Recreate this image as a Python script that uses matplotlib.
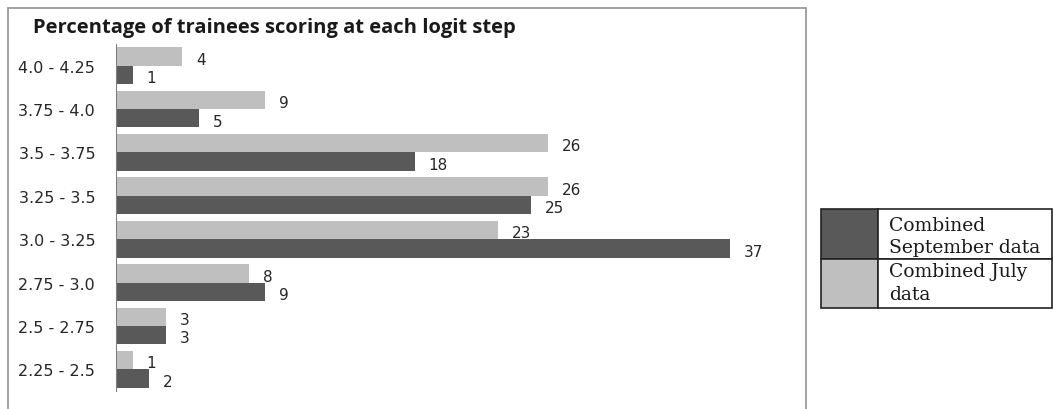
import matplotlib
matplotlib.use("Agg")
import matplotlib.pyplot as plt
from matplotlib.patches import Rectangle

# logit steps, listed top to bottom as shown
steps = ["4.0 - 4.25", "3.75 - 4.0", "3.5 - 3.75", "3.25 - 3.5",
         "3.0 - 3.25", "2.75 - 3.0", "2.5 - 2.75", "2.25 - 2.5"]
july = [4, 9, 26, 26, 23, 8, 3, 1]
september = [1, 5, 18, 25, 37, 9, 3, 2]

light = "#bfbfbf"
dark = "#595959"

W, H = 1053, 410
fig = plt.figure(figsize=(W / 100, H / 100), dpi=100)

def fx(px):
    return px / W

def fy(py):
    return 1 - py / H

# outer chart border
fig.patches.append(Rectangle((fx(8), fy(440)), fx(806) - fx(8), fy(9) - fy(440),
                             transform=fig.transFigure, fill=False,
                             edgecolor="#9a9a9a", linewidth=1.3))

ax = fig.add_axes([fx(116), fy(392), fx(790) - fx(116), fy(45) - fy(392)])

n = len(steps)
pos = [n - 1 - i for i in range(n)]
h = 0.425
ax.barh([p + h / 2 for p in pos], july, height=h, color=light)
ax.barh([p - h / 2 for p in pos], september, height=h, color=dark)

for p, v in zip(pos, july):
    ax.annotate(str(v), (v, p + h / 2), xytext=(10, -2), textcoords="offset points",
                va="center", ha="left", fontsize=11, family="DejaVu Sans",
                color="#262626")
for p, v in zip(pos, september):
    ax.annotate(str(v), (v, p - h / 2), xytext=(10, -2), textcoords="offset points",
                va="center", ha="left", fontsize=11, family="DejaVu Sans",
                color="#262626")

ax.set_xlim(0, 40.6)
ax.set_ylim(-0.5, n - 0.5)
ax.set_yticks(pos)
ax.set_yticklabels(steps, fontsize=11.5, family="DejaVu Sans", color="#262626")
ax.tick_params(axis="y", length=0, pad=15)
ax.set_xticks([])
for s in ["top", "right", "bottom"]:
    ax.spines[s].set_visible(False)
ax.spines["left"].set_color("#808080")
ax.spines["left"].set_bounds(-0.5, n - 0.5)

fig.text(fx(33), fy(28), "Percentage of trainees scoring at each logit step",
         fontsize=14.5, fontweight="bold", family="Open Sans", va="center", ha="left",
         color="#1a1a1a")

# legend drawn as a two-row table
lx0, lx1, lx2 = 821, 878, 1052
ly0, ly1, ly2 = 210, 260, 309
fig.patches.append(Rectangle((fx(lx0), fy(ly1)), fx(lx1) - fx(lx0), fy(ly0) - fy(ly1),
                             transform=fig.transFigure, facecolor=dark,
                             edgecolor="#222222", linewidth=1.2))
fig.patches.append(Rectangle((fx(lx0), fy(ly2)), fx(lx1) - fx(lx0), fy(ly1) - fy(ly2),
                             transform=fig.transFigure, facecolor=light,
                             edgecolor="#222222", linewidth=1.2))
fig.patches.append(Rectangle((fx(lx1), fy(ly1)), fx(lx2) - fx(lx1), fy(ly0) - fy(ly1),
                             transform=fig.transFigure, facecolor="white",
                             edgecolor="#222222", linewidth=1.2))
fig.patches.append(Rectangle((fx(lx1), fy(ly2)), fx(lx2) - fx(lx1), fy(ly1) - fy(ly2),
                             transform=fig.transFigure, facecolor="white",
                             edgecolor="#222222", linewidth=1.2))
for txt, y in [("Combined", 231), ("September data", 253),
               ("Combined July", 277), ("data", 300)]:
    fig.text(fx(889), fy(y), txt, fontsize=13.5, family="DejaVu Serif",
             va="baseline", ha="left", color="#1a1a1a")

fig.savefig("out.png", dpi=100)
